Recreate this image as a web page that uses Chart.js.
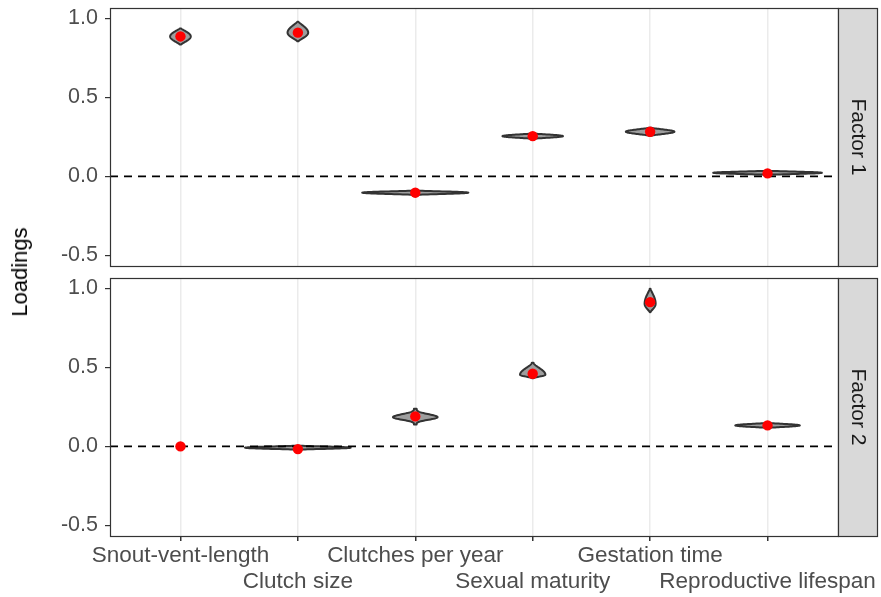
<!DOCTYPE html>
<html>
<head>
<meta charset="utf-8">
<script src="https://cdn.jsdelivr.net/npm/chart.js@4.4.0/dist/chart.umd.min.js"></script>
<style>
  body { margin: 0; background: #fff; }
  #wrap { position: relative; width: 881px; height: 597px; overflow: hidden; }
  #top { position: absolute; left: 0; top: 0; }
  #bottom { position: absolute; left: 0; top: 272px; }
  #ylab {
    position: absolute; left: 20px; top: 272px;
    transform: translate(-50%, -50%) rotate(-90deg);
    font: 22px 'Liberation Sans', Arial, sans-serif; color: #000; white-space: nowrap;
  }
</style>
</head>
<body>
<div id="wrap">
  <canvas id="top" width="881" height="272"></canvas>
  <canvas id="bottom" width="881" height="325"></canvas>
  <div id="ylab">Loadings</div>
</div>
<script>
// categories and facet names
const traits = ['Snout-vent-length', 'Clutch size', 'Clutches per year', 'Sexual maturity', 'Gestation time', 'Reproductive lifespan'];
const factorNames = ['Factor 1', 'Factor 2'];
const yTicks = [-0.5, 0, 0.5, 1.0];

// point loadings (red dots)
const loadF1 = [0.886, 0.91, -0.103, 0.255, 0.283, 0.019];
const loadF2 = [0.0, -0.017, 0.19, 0.46, 0.913, 0.133];

// violin extents: low / high / widest value / half width (in category units) / peakiness
const vioLoF1 = [0.835, 0.856, -0.116, 0.239, 0.258, 0.011];
const vioHiF1 = [0.937, 0.979, -0.090, 0.271, 0.308, 0.035];
const vioPeakF1 = [0.886, 0.91, -0.103, 0.255, 0.283, 0.023];
const vioHalfWF1 = [0.088, 0.088, 0.452, 0.258, 0.207, 0.463];
const vioSharpF1 = [1.2, 1.2, 1.2, 1.2, 1.4, 1.2];

const vioLoF2 = [0, -0.020, 0.139, 0.432, 0.85, 0.118];
const vioHiF2 = [0, 0.004, 0.239, 0.53, 0.998, 0.148];
const vioPeakF2 = [0, -0.008, 0.185, 0.454, 0.903, 0.133];
const vioHalfWF2 = [0, 0.45, 0.19, 0.108, 0.047, 0.275];
const vioSharpF2 = [1, 1.2, 3.5, 1.6, 1.2, 1.2];

const FONT = "'Liberation Sans', Arial, sans-serif";
const tickGrey = '#4d4d4d';
const frameGrey = '#333333';

// violins drawn under the points
const violinPlugin = {
  id: 'violins',
  beforeDatasetsDraw(chart, args, opts) {
    const ctx = chart.ctx;
    const xs = chart.scales.x, ys = chart.scales.y;
    ctx.save();
    opts.lo.forEach((lo, i) => {
      const hi = opts.hi[i], peak = opts.peak[i], hw = opts.halfW[i], sh = opts.sharp[i];
      if (hw <= 0 || hi <= lo) return;
      const n = 50;
      const right = [], left = [];
      for (let k = 0; k <= n; k++) {
        const v = lo + (hi - lo) * k / n;
        let d = v < peak ? (peak - v) / (peak - lo) : (v - peak) / (hi - peak);
        if (!isFinite(d)) d = 0;
        d = Math.min(Math.max(d, 0), 1);
        const w = hw * (0.06 + 0.94 * Math.pow(Math.cos(d * Math.PI / 2), sh));
        const py = ys.getPixelForValue(v);
        right.push([xs.getPixelForValue(i + 1 + w), py]);
        left.push([xs.getPixelForValue(i + 1 - w), py]);
      }
      ctx.beginPath();
      right.forEach((p, k) => k ? ctx.lineTo(p[0], p[1]) : ctx.moveTo(p[0], p[1]));
      left.reverse().forEach(p => ctx.lineTo(p[0], p[1]));
      ctx.closePath();
      ctx.fillStyle = '#9e9e9e';
      ctx.fill();
      ctx.lineWidth = 2;
      ctx.lineJoin = 'round';
      ctx.strokeStyle = frameGrey;
      ctx.stroke();
    });
    ctx.restore();
  }
};

// panel border and facet strip on the right
const panelPlugin = {
  id: 'panel',
  afterDraw(chart, args, opts) {
    const ctx = chart.ctx;
    const a = chart.chartArea;
    ctx.save();
    ctx.strokeStyle = frameGrey;
    ctx.lineWidth = 1.2;
    ctx.strokeRect(a.left + 0.5, a.top + 0.5, a.right - a.left, a.bottom - a.top);
    const sw = 39;
    ctx.fillStyle = '#d9d9d9';
    ctx.fillRect(a.right, a.top, sw, a.bottom - a.top);
    ctx.strokeRect(a.right + 0.5, a.top + 0.5, sw, a.bottom - a.top);
    ctx.translate(a.right + sw / 2 + 0.5, (a.top + a.bottom) / 2);
    ctx.rotate(Math.PI / 2);
    ctx.fillStyle = '#1a1a1a';
    ctx.font = '21px ' + FONT;
    ctx.textAlign = 'center';
    ctx.textBaseline = 'middle';
    ctx.fillText(opts.label, 0, 0);
    ctx.restore();
  }
};

function makePanel(id, loads, lo, hi, peak, halfW, sharp, label, showX, padTop, xHeight) {
  new Chart(document.getElementById(id), {
    type: 'scatter',
    data: {
      datasets: [
        {
          data: traits.map((t, i) => ({ x: i + 1, y: loads[i] })),
          backgroundColor: '#ff0000',
          borderWidth: 0,
          pointRadius: 5.2,
          order: 0
        },
        {
          type: 'line',
          data: [{ x: 0.4, y: 0 }, { x: 6.6, y: 0 }],
          borderColor: '#000',
          borderWidth: 1.8,
          borderDash: [8, 6],
          pointRadius: 0,
          order: 1
        }
      ]
    },
    options: {
      responsive: false,
      animation: false,
      layout: { padding: { top: padTop, right: 43, left: 0, bottom: 0 } },
      plugins: {
        legend: { display: false },
        tooltip: { enabled: false },
        violins: { lo: lo, hi: hi, peak: peak, halfW: halfW, sharp: sharp },
        panel: { label: label }
      },
      scales: {
        x: {
          type: 'linear',
          min: 0.4,
          max: 6.6,
          afterBuildTicks: s => { s.ticks = traits.map((t, i) => ({ value: i + 1 })); },
          afterFit: s => { s.height = xHeight; s.paddingLeft = 0; s.paddingRight = 0; },
          border: { display: false },
          grid: {
            color: '#ebebeb',
            lineWidth: 1.5,
            drawTicks: showX,
            tickLength: 5,
            tickColor: frameGrey
          },
          ticks: {
            display: showX,
            maxRotation: 0,
            autoSkip: false,
            padding: 2,
            color: tickGrey,
            font: { family: FONT, size: 22.5, lineHeight: '26px' },
            callback: v => (v % 2 === 1 ? [traits[v - 1]] : ['', traits[v - 1]])
          }
        },
        y: {
          min: -0.567,
          max: 1.066,
          afterBuildTicks: s => { s.ticks = yTicks.map(v => ({ value: v })); },
          afterFit: s => { s.width = 110; s.paddingTop = 0; s.paddingBottom = 0; },
          border: { display: false },
          grid: {
            drawOnChartArea: false,
            drawTicks: true,
            tickLength: 5,
            tickColor: frameGrey,
            lineWidth: 1.2
          },
          ticks: {
            padding: 7,
            color: tickGrey,
            font: { family: FONT, size: 21.5 },
            callback: v => v.toFixed(1)
          }
        }
      }
    },
    plugins: [violinPlugin, panelPlugin]
  });
}

makePanel('top', loadF1, vioLoF1, vioHiF1, vioPeakF1, vioHalfWF1, vioSharpF1, factorNames[0], false, 8, 6);
makePanel('bottom', loadF2, vioLoF2, vioHiF2, vioPeakF2, vioHalfWF2, vioSharpF2, factorNames[1], true, 6, 61);
</script>
</body>
</html>
